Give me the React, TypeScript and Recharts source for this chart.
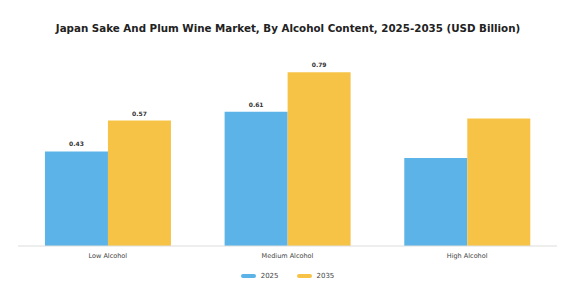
import { Bar, BarChart, LabelList, Legend, XAxis, YAxis } from 'recharts'

const categories = ['Low Alcohol', 'Medium Alcohol', 'High Alcohol']
const values2025 = [0.43, 0.61, 0.4]
const values2035 = [0.57, 0.79, 0.58]
// only the first two groups carry value labels in the source
const labels2025 = ['0.43', '0.61', null]
const labels2035 = ['0.57', '0.79', null]

const data = categories.map((name, i) => ({
  name,
  y2025: values2025[i],
  y2035: values2035[i],
  l2025: labels2025[i],
  l2035: labels2035[i],
}))

const BLUE = '#5cb3e8'
const YELLOW = '#f7c347'
const FONT = '"DejaVu Sans", sans-serif'

function LegendBox() {
  const items = [
    { label: '2025', color: BLUE },
    { label: '2035', color: YELLOW },
  ]
  return (
    <div style={{ display: 'flex', justifyContent: 'center', alignItems: 'center', height: 16, gap: 18, fontFamily: FONT, fontSize: 7, color: '#444' }}>
      {items.map(it => (
        <div key={it.label} style={{ display: 'flex', alignItems: 'center', gap: 5 }}>
          <span style={{ width: 15, height: 4, borderRadius: 2, background: it.color, display: 'inline-block' }} />
          <span>{it.label}</span>
        </div>
      ))}
    </div>
  )
}

export default function App() {
  return (
    <div style={{ position: 'absolute', left: 0, top: 0, width: 576, height: 303, background: '#fff' }}>
      <div style={{ position: 'absolute', top: 22, width: 576, textAlign: 'center', fontFamily: FONT, fontWeight: 'bold', fontSize: 10.3, color: '#222' }}>
        Japan Sake And Plum Wine Market, By Alcohol Content, 2025-2035 (USD Billion)
      </div>
      <BarChart width={576} height={303} data={data} margin={{ top: 59, right: 19, left: 18, bottom: 19 }} barGap={0} barCategoryGap="15%">
        <XAxis dataKey="name" height={22} tickLine={false} axisLine={{ stroke: '#dddddd' }} tick={{ fontSize: 6.5, fill: '#444', fontFamily: FONT, dy: -1 }} />
        <YAxis hide domain={[0, 0.85]} />
        <Legend verticalAlign="bottom" height={16} content={() => <LegendBox />} />
        <Bar dataKey="y2025" fill={BLUE} isAnimationActive={false}>
          <LabelList dataKey="l2025" position="top" offset={5} style={{ fontSize: 6, fontWeight: 'bold', fill: '#333', fontFamily: FONT }} />
        </Bar>
        <Bar dataKey="y2035" fill={YELLOW} isAnimationActive={false}>
          <LabelList dataKey="l2035" position="top" offset={5} style={{ fontSize: 6, fontWeight: 'bold', fill: '#333', fontFamily: FONT }} />
        </Bar>
      </BarChart>
    </div>
  )
}
